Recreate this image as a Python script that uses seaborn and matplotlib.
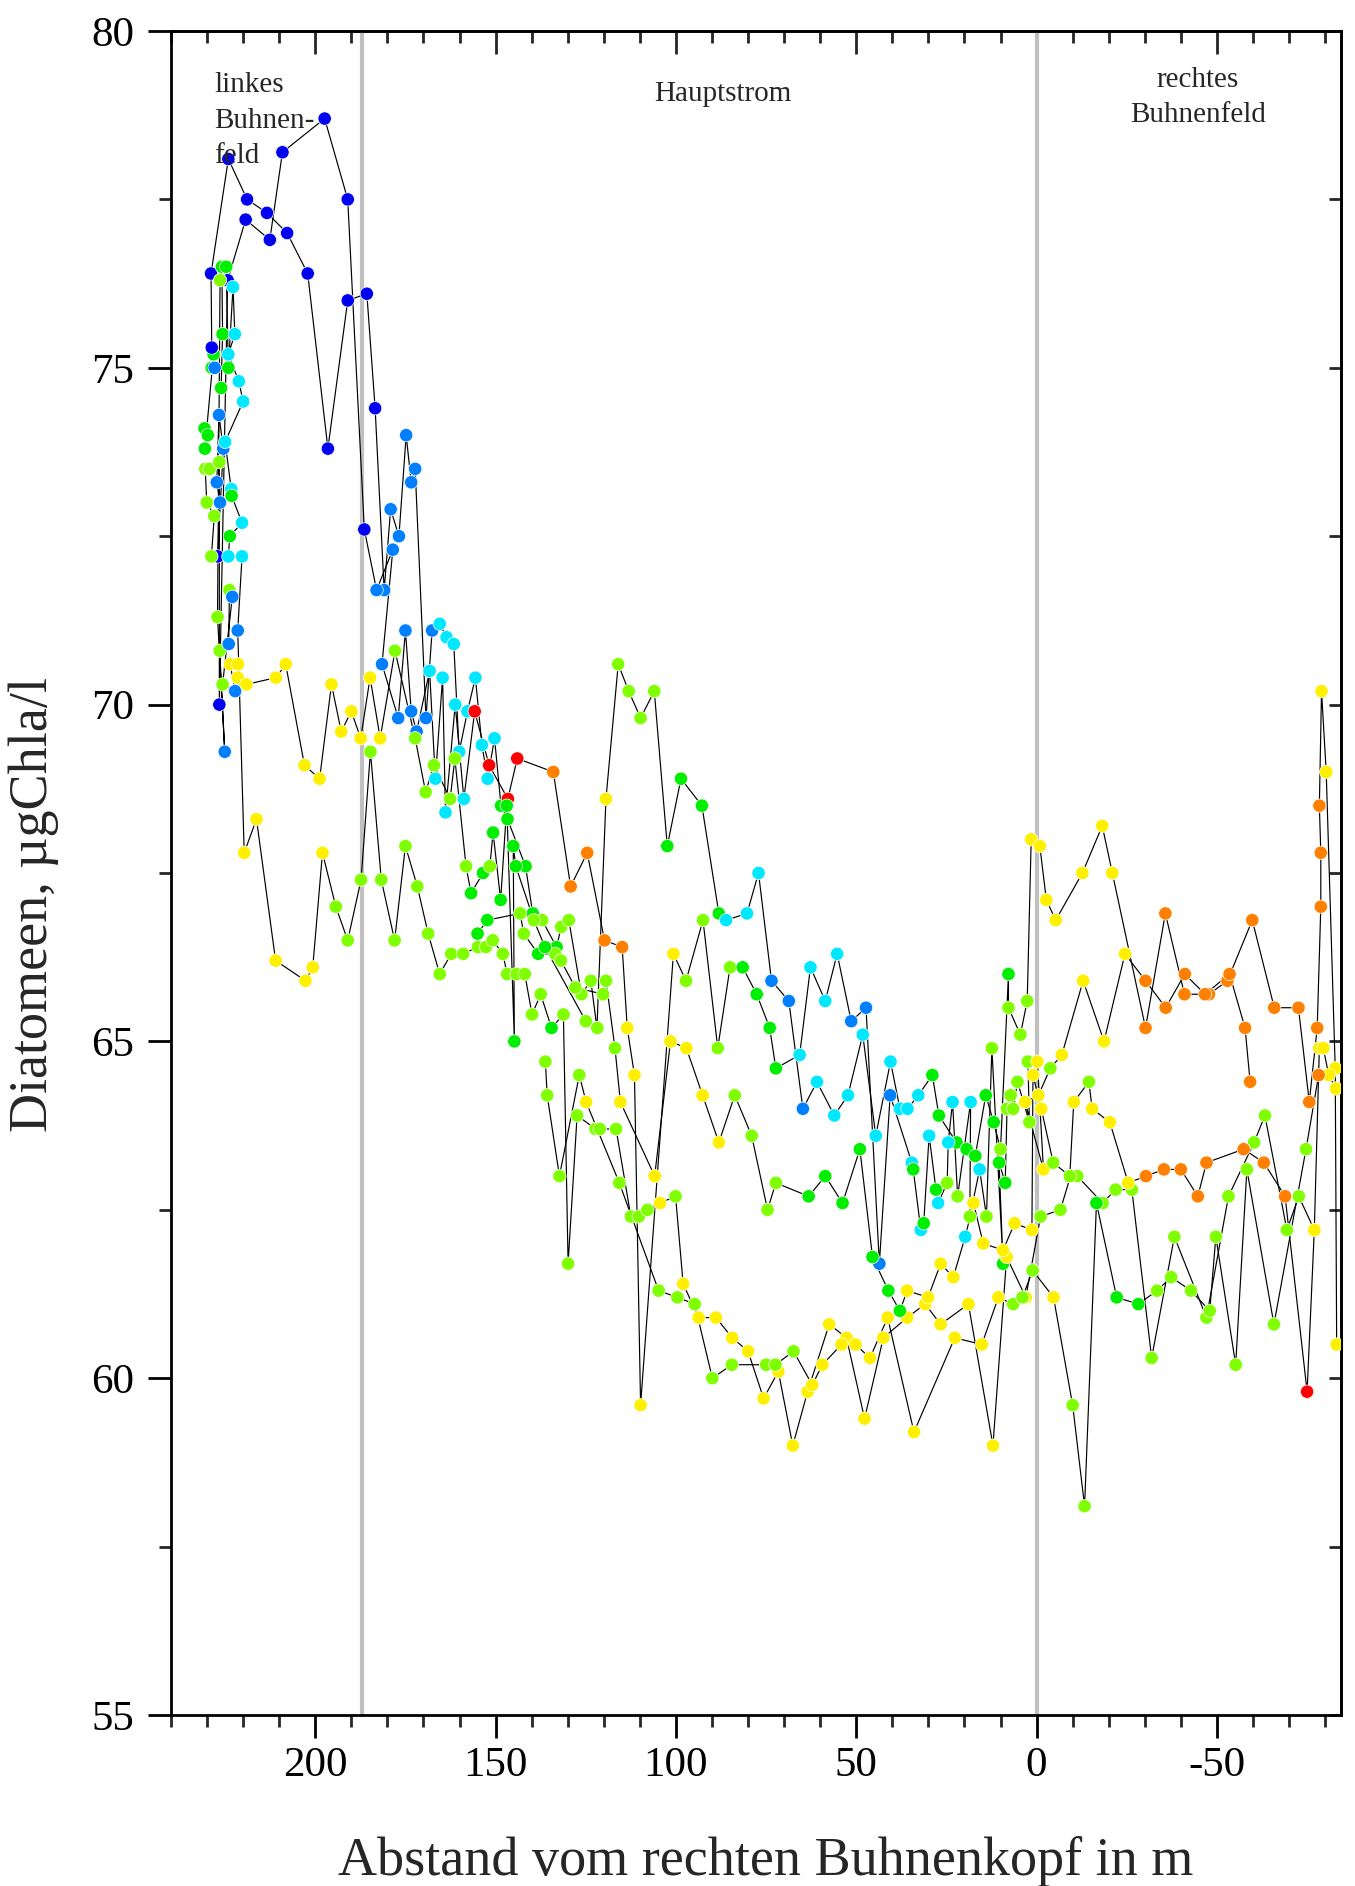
import matplotlib
matplotlib.use("Agg")
import matplotlib.pyplot as plt
import seaborn as sns
import pandas as pd
from matplotlib.ticker import MultipleLocator

# Diatomeen-Querprofile: (Abstand in m, Chla, Klasse)
series_a = [
    (230.7, 74.1, 'g'), (229.8, 74.0, 'g'), (230.6, 73.8, 'g'), (228.2, 75.2, 'g'), (228.7, 75.0, 'g'),
    (227.9, 75.0, 'l'), (228.7, 75.3, 'b'), (228.9, 76.4, 'b'), (224.1, 78.1, 'b'), (218.9, 77.5, 'b'),
    (213.4, 77.3, 'b'), (207.8, 77.0, 'b'), (202.1, 76.4, 'b'), (196.5, 73.8, 'b'), (191.0, 76.0, 'b'),
    (185.7, 76.1, 'b'), (183.4, 74.4, 'b'), (180.9, 71.7, 'l'), (179.1, 72.9, 'l'), (176.8, 72.5, 'l'),
    (174.8, 74.0, 'l'), (173.4, 73.3, 'l'), (172.3, 73.5, 'l'), (169.3, 69.8, 'l'), (167.6, 71.1, 'l'),
    (165.5, 71.2, 'c'), (163.6, 71.0, 'c'), (161.6, 70.9, 'c'), (160.1, 69.3, 'c'), (157.8, 69.9, 'c'),
    (155.6, 70.4, 'c'), (153.8, 69.4, 'c'), (152.2, 68.9, 'c'), (150.3, 69.5, 'c'), (148.5, 68.5, 'g'),
    (146.7, 68.3, 'g'), (141.7, 67.6, 'g'), (139.7, 66.9, 'g'), (137.1, 66.8, 'v'), (133.1, 66.4, 'g'),
    (131.8, 66.7, 'v'), (129.7, 66.8, 'v'), (126.2, 65.7, 'v'), (123.6, 65.9, 'v'), (121.9, 65.2, 'v'),
    (119.4, 68.6, 'y'), (116.0, 70.6, 'v'), (113.1, 70.2, 'v'), (109.8, 69.8, 'v'), (106.0, 70.2, 'v'),
    (102.4, 67.9, 'g'), (98.6, 68.9, 'g'), (92.8, 68.5, 'g'), (88.1, 66.9, 'g'), (86.1, 66.8, 'c'),
    (80.3, 66.9, 'c'), (77.1, 67.5, 'c'), (73.5, 65.9, 'l'), (68.7, 65.6, 'l'), (64.8, 64.0, 'l'),
    (60.9, 64.4, 'c'), (56.1, 63.9, 'c'), (52.3, 64.2, 'c'), (48.2, 65.1, 'c'), (44.6, 63.6, 'c'),
    (40.5, 64.7, 'c'), (37.9, 64.0, 'c'), (35.8, 64.0, 'c'), (32.8, 64.2, 'c'), (28.9, 64.5, 'g'),
    (27.1, 63.9, 'g'), (22.2, 63.5, 'g'), (19.4, 63.4, 'g'), (17.0, 63.3, 'g'), (14.1, 64.2, 'g'),
    (11.9, 63.8, 'g'), (10.0, 63.4, 'v'), (7.8, 66.0, 'g'), (7.8, 65.5, 'v'), (4.5, 65.1, 'v'),
    (2.6, 65.6, 'v'), (1.5, 68.0, 'y'), (-0.9, 67.9, 'y'), (-2.7, 67.1, 'y'), (-5.3, 66.8, 'y'),
    (-12.7, 67.5, 'y'), (-18.2, 68.2, 'y'), (-21.0, 67.5, 'y'), (-30.2, 65.2, 'o'), (-35.7, 66.9, 'o'),
    (-41.0, 65.7, 'o'), (-47.8, 65.7, 'o'), (-52.9, 65.9, 'o'), (-59.8, 66.8, 'o'), (-65.9, 65.5, 'o'),
    (-72.6, 65.5, 'o'), (-75.6, 64.1, 'o'), (-77.8, 65.2, 'o'), (-78.8, 67.0, 'o'), (-78.8, 67.8, 'o'),
    (-78.4, 68.5, 'o'), (-79.0, 70.2, 'y'), (-80.3, 69.0, 'y'), (-82.8, 64.6, 'y'), (-83.2, 60.5, 'y'),
]

series_b = [
    (226.4, 73.0, 'l'), (227.3, 73.3, 'l'), (226.7, 74.3, 'l'), (225.5, 73.8, 'l'), (227.1, 72.2, 'b'),
    (228.8, 72.2, 'v'), (228.0, 72.8, 'v'), (230.1, 73.0, 'v'), (230.5, 73.5, 'v'), (229.3, 73.5, 'v'),
    (226.6, 73.6, 'v'), (226.6, 70.0, 'b'), (224.3, 76.3, 'b'), (219.3, 77.2, 'b'), (212.6, 76.9, 'b'),
    (209.1, 78.2, 'b'), (197.4, 78.7, 'b'), (191.0, 77.5, 'b'), (186.4, 72.6, 'b'), (183.0, 71.7, 'l'),
    (178.5, 72.3, 'l'), (181.5, 70.6, 'l'), (177.0, 69.8, 'l'), (175.0, 71.1, 'l'), (173.4, 69.9, 'l'),
    (171.9, 69.6, 'l'), (168.3, 70.5, 'c'), (166.7, 68.9, 'c'), (164.7, 70.4, 'c'), (163.9, 68.4, 'c'),
    (161.2, 70.0, 'c'), (158.8, 68.6, 'c'), (155.8, 69.9, 'r'), (151.8, 69.1, 'r'), (146.6, 68.6, 'r'),
    (144.0, 69.2, 'r'), (134.0, 69.0, 'o'), (129.2, 67.3, 'o'), (124.6, 67.8, 'o'), (119.8, 66.5, 'o'),
    (114.9, 66.4, 'o'), (113.5, 65.2, 'y'), (111.5, 64.5, 'y'), (109.8, 59.6, 'y'), (100.7, 66.3, 'y'),
    (97.2, 65.9, 'v'), (92.5, 66.8, 'v'), (88.4, 64.9, 'v'), (85.0, 66.1, 'v'), (81.5, 66.1, 'g'),
    (77.6, 65.7, 'g'), (74.0, 65.2, 'g'), (72.3, 64.6, 'g'), (65.7, 64.8, 'c'), (62.7, 66.1, 'c'),
    (58.6, 65.6, 'c'), (55.3, 66.3, 'c'), (51.4, 65.3, 'l'), (47.3, 65.5, 'l'), (43.6, 61.7, 'l'),
    (40.6, 64.2, 'l'), (34.6, 63.2, 'c'), (34.2, 63.1, 'g'), (32.1, 62.2, 'c'), (31.3, 62.3, 'g'),
    (29.8, 63.6, 'c'), (27.9, 62.8, 'g'), (27.3, 62.6, 'c'), (24.8, 62.9, 'v'), (24.5, 63.5, 'c'),
    (23.3, 64.1, 'c'), (21.9, 62.7, 'v'), (18.3, 64.1, 'c'), (18.5, 62.4, 'v'), (15.8, 63.1, 'c'),
    (13.9, 62.4, 'v'), (12.4, 64.9, 'v'), (9.3, 61.7, 'g'), (10.4, 63.2, 'g'), (8.7, 62.9, 'g'),
    (8.2, 64.0, 'v'), (7.2, 64.2, 'v'), (6.5, 64.0, 'v'), (5.3, 64.4, 'v'), (2.0, 63.8, 'v'),
    (2.4, 64.7, 'v'), (-0.2, 64.7, 'y'), (-1.9, 63.1, 'y'), (3.2, 64.1, 'y'), (-0.5, 64.2, 'y'),
    (-3.8, 64.6, 'v'), (-7.0, 64.8, 'y'), (-12.9, 65.9, 'y'), (-18.7, 65.0, 'y'), (-24.5, 66.3, 'y'),
    (-30.2, 65.9, 'o'), (-35.8, 65.5, 'o'), (-41.1, 66.0, 'o'), (-46.7, 65.7, 'o'), (-53.5, 66.0, 'o'),
    (-57.8, 65.2, 'o'), (-59.2, 64.4, 'o'),
]

series_c = [
    (226.1, 74.7, 'g'), (225.7, 75.5, 'g'), (225.9, 76.5, 'g'), (224.7, 76.5, 'g'), (224.1, 75.0, 'g'),
    (222.8, 76.2, 'c'), (222.3, 75.5, 'c'), (224.1, 75.2, 'c'), (221.2, 74.8, 'c'), (220.0, 74.5, 'c'),
    (225.0, 73.9, 'c'), (223.3, 73.2, 'c'), (223.2, 73.1, 'g'), (220.3, 72.7, 'c'), (223.7, 72.5, 'g'),
    (224.1, 72.2, 'c'), (220.3, 72.2, 'c'), (221.5, 71.1, 'l'), (219.7, 67.8, 'y'), (216.3, 68.3, 'y'),
    (211.0, 66.2, 'y'), (202.7, 65.9, 'y'), (200.7, 66.1, 'y'), (198.0, 67.8, 'y'), (194.3, 67.0, 'v'),
    (191.0, 66.5, 'v'), (187.3, 67.4, 'v'), (184.7, 69.3, 'v'), (181.7, 67.4, 'v'), (178.0, 66.5, 'v'),
    (175.0, 67.9, 'v'), (171.7, 67.3, 'v'), (168.7, 66.6, 'v'), (165.5, 66.0, 'v'), (162.3, 66.3, 'v'),
    (159.0, 66.3, 'v'), (154.9, 66.4, 'v'), (152.7, 66.4, 'v'), (150.8, 66.5, 'v'), (148.0, 66.3, 'v'),
    (146.8, 66.0, 'v'), (144.2, 66.0, 'v'), (141.9, 66.0, 'v'), (139.9, 65.4, 'v'), (137.5, 65.7, 'v'),
    (134.5, 65.2, 'g'), (131.2, 65.4, 'v'), (129.9, 61.7, 'v'), (127.4, 63.9, 'v'), (122.3, 63.7, 'v'),
    (121.1, 63.7, 'v'), (116.6, 63.7, 'v'), (112.5, 62.4, 'v'), (110.3, 62.4, 'v'), (107.9, 62.5, 'v'),
    (104.4, 62.6, 'y'), (100.1, 62.7, 'v'), (98.0, 61.4, 'y'), (93.7, 60.9, 'y'), (88.9, 60.9, 'y'),
    (84.4, 60.6, 'y'), (80.0, 60.4, 'y'), (75.7, 59.7, 'y'), (71.6, 60.1, 'y'), (67.6, 59.0, 'y'),
    (63.5, 59.8, 'y'), (57.5, 60.8, 'y'), (52.7, 60.6, 'y'), (47.7, 59.4, 'y'), (42.5, 60.6, 'y'),
    (35.9, 60.9, 'y'), (30.9, 61.1, 'y'), (26.6, 60.8, 'y'), (18.9, 61.1, 'y'), (12.1, 59.0, 'y'),
    (8.3, 61.8, 'y'), (3.0, 61.2, 'y'), (-1.1, 62.4, 'v'), (-6.6, 62.5, 'v'), (-9.4, 63.0, 'v'),
    (-11.3, 63.0, 'v'), (-18.3, 62.6, 'v'), (-21.9, 62.8, 'v'), (-26.4, 62.8, 'v'), (-31.9, 60.3, 'v'),
    (-38.2, 62.1, 'v'), (-47.1, 60.9, 'v'), (-53.2, 62.7, 'v'), (-60.3, 63.5, 'v'), (-63.3, 63.9, 'v'),
    (-69.4, 62.2, 'v'), (-72.7, 62.7, 'v'), (-77.0, 62.2, 'y'),
]

series_d = [
    (155.0, 66.6, 'g'), (152.3, 66.8, 'g'), (143.2, 66.9, 'v'), (142.2, 66.6, 'v'), (138.2, 66.3, 'g'),
    (133.5, 66.3, 'v'), (131.9, 66.2, 'v'), (127.9, 65.8, 'v'), (120.2, 65.7, 'v'), (119.4, 65.9, 'v'),
    (116.9, 64.9, 'v'), (115.4, 64.1, 'y'), (105.9, 63.0, 'y'), (101.5, 65.0, 'y'), (97.1, 64.9, 'y'),
    (92.6, 64.2, 'y'), (88.1, 63.5, 'y'), (83.7, 64.2, 'v'), (79.0, 63.6, 'v'), (74.6, 62.5, 'v'),
    (72.3, 62.9, 'v'), (63.2, 62.7, 'g'), (58.6, 63.0, 'g'), (53.8, 62.6, 'g'), (49.0, 63.4, 'g'),
    (45.5, 61.8, 'g'), (41.1, 61.3, 'g'), (37.9, 61.0, 'g'), (35.9, 61.3, 'y'), (30.1, 61.2, 'y'),
    (26.6, 61.7, 'y'), (23.1, 61.5, 'y'), (19.8, 62.1, 'c'), (17.5, 62.6, 'y'), (14.8, 62.0, 'y'),
    (9.3, 61.9, 'y'), (6.1, 62.3, 'y'), (1.3, 62.2, 'y'), (1.0, 64.5, 'y'), (-1.3, 64.0, 'y'),
    (-4.6, 63.2, 'v'), (-9.2, 63.0, 'v'), (-10.3, 64.1, 'y'), (-14.5, 64.4, 'v'), (-15.4, 64.0, 'y'),
    (-20.3, 63.8, 'y'), (-25.4, 62.9, 'y'), (-30.3, 63.0, 'o'), (-35.3, 63.1, 'o'), (-40.0, 63.1, 'o'),
    (-44.7, 62.7, 'o'), (-47.1, 63.2, 'o'), (-57.4, 63.4, 'o'), (-63.0, 63.2, 'o'), (-68.9, 62.7, 'o'),
    (-75.0, 59.8, 'r'), (-77.0, 62.2, 'y'), (-78.4, 64.9, 'y'), (-79.5, 64.9, 'y'), (-81.0, 64.5, 'y'),
    (-83.0, 64.3, 'y'),
]

series_e = [
    (226.4, 76.3, 'v'), (227.1, 71.3, 'v'), (225.1, 69.3, 'l'), (226.5, 70.8, 'v'), (224.0, 70.9, 'l'),
    (223.8, 71.7, 'v'), (223.0, 71.6, 'l'), (225.7, 70.3, 'v'), (222.2, 70.2, 'l'), (223.6, 70.6, 'y'),
    (221.4, 70.6, 'y'), (221.5, 70.4, 'y'), (219.1, 70.3, 'y'), (210.9, 70.4, 'y'), (208.2, 70.6, 'y'),
    (203.0, 69.1, 'y'), (198.8, 68.9, 'y'), (195.5, 70.3, 'y'), (192.8, 69.6, 'y'), (190.0, 69.9, 'y'),
    (187.4, 69.5, 'y'), (184.8, 70.4, 'y'), (182.0, 69.5, 'y'), (177.9, 70.8, 'v'), (172.3, 69.5, 'v'),
    (169.4, 68.7, 'v'), (167.1, 69.1, 'v'), (162.6, 68.6, 'v'), (161.3, 69.2, 'v'), (158.2, 67.6, 'v'),
    (156.8, 67.2, 'g'), (153.5, 67.5, 'g'), (151.6, 67.6, 'v'), (150.7, 68.1, 'g'), (148.6, 67.1, 'g'),
    (146.9, 68.5, 'g'), (144.8, 65.0, 'g'), (145.1, 67.9, 'g'), (144.4, 67.6, 'g'), (139.4, 66.8, 'v'),
    (136.3, 66.4, 'g'), (125.0, 65.3, 'v'), (121.8, 65.2, 'v'),
]

series_f = [
    (136.2, 64.7, 'v'), (135.7, 64.2, 'v'), (132.3, 63.0, 'v'), (126.8, 64.5, 'v'), (124.9, 64.1, 'y'),
    (115.7, 62.9, 'v'), (104.8, 61.3, 'v'), (99.6, 61.2, 'v'), (94.8, 61.1, 'v'), (89.9, 60.0, 'v'),
    (84.5, 60.2, 'v'), (75.0, 60.2, 'v'), (72.4, 60.2, 'v'), (67.4, 60.4, 'v'), (62.2, 59.9, 'y'),
    (59.4, 60.2, 'y'), (54.1, 60.5, 'y'), (50.2, 60.5, 'y'), (46.2, 60.3, 'y'), (41.3, 60.9, 'y'),
    (34.0, 59.2, 'y'), (22.7, 60.6, 'y'), (15.2, 60.5, 'y'), (10.6, 61.2, 'y'), (6.5, 61.1, 'v'),
    (3.9, 61.2, 'v'), (1.1, 61.6, 'v'), (-4.7, 61.2, 'y'), (-10.0, 59.6, 'v'), (-13.3, 58.1, 'v'),
    (-16.6, 62.6, 'g'), (-22.2, 61.2, 'g'), (-28.2, 61.1, 'g'), (-33.4, 61.3, 'v'), (-37.3, 61.5, 'v'),
    (-42.8, 61.3, 'v'), (-48.0, 61.0, 'v'), (-49.7, 62.1, 'v'), (-55.2, 60.2, 'v'), (-58.3, 63.1, 'v'),
    (-65.8, 60.8, 'v'), (-74.7, 63.4, 'v'), (-78.2, 64.5, 'o'),
]

class_colors = {'b': '#0000f0', 'l': '#0080ff', 'c': '#00e8ff', 'g': '#00ee00',
                'v': '#80ff00', 'y': '#fff000', 'o': '#ff8000', 'r': '#ff0000'}

x_ticks = [200, 150, 100, 50, 0, -50]
x_ticklabels = ['200', '150', '100', '50', '0', '-50']
y_ticks = [55, 60, 65, 70, 75, 80]
grenzen = [187.0, 0.0]  # Buhnenkopf links / rechts

rows = []
for name, s in [('a', series_a), ('b', series_b), ('c', series_c), ('d', series_d),
                ('e', series_e), ('f', series_f)]:
    for i, (x, y, k) in enumerate(s):
        rows.append({'profil': name, 'i': i, 'x': x, 'y': y, 'klasse': k})
df = pd.DataFrame(rows)

sns.set_theme(style="ticks")
plt.rcParams['font.family'] = ['Liberation Serif', 'DejaVu Serif']
plt.rcParams['axes.unicode_minus'] = False

W, H = 1355, 1886
fig = plt.figure(figsize=(W / 100, H / 100), dpi=100)
ax = fig.add_axes([171 / W, 1 - 1715 / H, 1170 / W, 1684 / H])

for g in grenzen:
    ax.axvline(g, color='#c0c0c0', lw=3, zorder=1)

sns.lineplot(data=df, x='x', y='y', units='profil', estimator=None, sort=False,
             color='black', linewidth=0.85, ax=ax, zorder=2)
sns.scatterplot(data=df, x='x', y='y', hue='klasse', palette=class_colors, s=92,
                edgecolor='white', linewidth=0.5, legend=False, ax=ax, zorder=3)

ax.set_xlim(240, -84.4)
ax.set_ylim(55, 80)
ax.set_xticks(x_ticks)
ax.set_xticklabels(x_ticklabels)
ax.set_yticks(y_ticks)
ax.xaxis.set_minor_locator(MultipleLocator(10))
ax.yaxis.set_minor_locator(MultipleLocator(2.5))
ax.set_xlabel('')
ax.set_ylabel('')

for sp in ax.spines.values():
    sp.set_linewidth(2)
    sp.set_color('black')

ax.tick_params(which='major', direction='out', length=16.5, width=2, labelsize=31, colors='black')
ax.tick_params(which='minor', direction='out', length=8.5, width=2)
ax.tick_params(axis='x', which='major', pad=6)
ax.tick_params(axis='y', which='major', pad=10)

top = ax.secondary_xaxis('top')
top.set_xticks(x_ticks)
top.xaxis.set_minor_locator(MultipleLocator(10))
top.tick_params(which='major', direction='in', length=16.5, width=2, labeltop=False)
top.tick_params(which='minor', direction='in', length=8.5, width=2)
top.spines['top'].set_linewidth(2)

right = ax.secondary_yaxis('right')
right.set_yticks(y_ticks)
right.yaxis.set_minor_locator(MultipleLocator(2.5))
right.tick_params(which='major', direction='in', length=8.5, width=2, labelright=False)
right.tick_params(which='minor', direction='in', length=8.5, width=2)
right.spines['right'].set_linewidth(2)

fig.text(766 / W, 1 - 1875 / H, 'Abstand vom rechten Buhnenkopf in m', ha='center',
         va='baseline', fontsize=39)
fig.text(34 / W, 1 - 905 / H, 'Diatomeen, µgChla/l', ha='center', va='center',
         rotation=90, fontsize=39)

fig.text(214 / W, 1 - 92 / H, 'linkes', ha='left', va='baseline', fontsize=21)
fig.text(214 / W, 1 - 128 / H, 'Buhnen-', ha='left', va='baseline', fontsize=21)
fig.text(214 / W, 1 - 163 / H, 'feld', ha='left', va='baseline', fontsize=21)
fig.text(723 / W, 1 - 101 / H, 'Hauptstrom', ha='center', va='baseline', fontsize=21)
fig.text(1198 / W, 1 - 87 / H, 'rechtes', ha='center', va='baseline', fontsize=21)
fig.text(1198 / W, 1 - 122 / H, 'Buhnenfeld', ha='center', va='baseline', fontsize=21)

fig.savefig('out.png', dpi=100)
